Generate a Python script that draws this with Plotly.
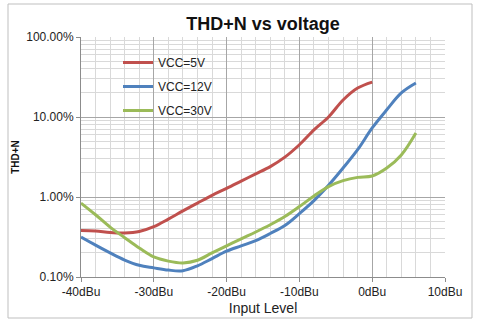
import plotly.graph_objects as go

# Data (THD+N in %, input level in dBu)
x_5v = [-40, -38, -36, -34, -32, -30, -28, -26, -24, -22, -20, -18, -16, -14, -12, -10, -8, -6, -4, -2, 0]
thd_5v = [0.38, 0.375, 0.36, 0.355, 0.37, 0.425, 0.53, 0.67, 0.84, 1.05, 1.28, 1.58, 1.95, 2.4, 3.15, 4.5, 6.9, 10.0, 16.3, 23.0, 27.3]

x_12v = [-40, -38, -36, -34, -32, -30, -28, -26, -24, -22, -20, -18, -16, -14, -12, -10, -8, -6, -4, -2, 0, 2, 4, 6]
thd_12v = [0.316, 0.25, 0.2, 0.163, 0.14, 0.13, 0.122, 0.12, 0.138, 0.17, 0.21, 0.245, 0.285, 0.35, 0.44, 0.62, 0.9, 1.4, 2.3, 3.9, 7.3, 12.3, 20.0, 26.6]

x_30v = [-40, -38, -36, -34, -32, -30, -28, -26, -24, -22, -20, -18, -16, -14, -12, -10, -8, -6, -4, -2, 0, 2, 4, 6]
thd_30v = [0.84, 0.6, 0.42, 0.31, 0.23, 0.178, 0.158, 0.15, 0.162, 0.2, 0.245, 0.3, 0.365, 0.45, 0.57, 0.76, 1.03, 1.35, 1.6, 1.76, 1.83, 2.3, 3.35, 6.3]

series_names = ["VCC=5V", "VCC=12V", "VCC=30V"]
series_colors = ["#C0504D", "#4F81BD", "#9BBB59"]

x_tickvals = [-40, -30, -20, -10, 0, 10]
x_ticktext = ["-40dBu", "-30dBu", "-20dBu", "-10dBu", "0dBu", "10dBu"]
y_tickvals = [0.1, 1, 10, 100]
y_ticktext = ["0.10%", "1.00%", "10.00%", "100.00%"]

FONT = "Arial, 'Liberation Sans', sans-serif"

fig = go.Figure()
for i, (xs, ys) in enumerate([(x_5v, thd_5v), (x_12v, thd_12v), (x_30v, thd_30v)]):
    fig.add_trace(go.Scatter(
        x=xs, y=ys, mode="lines", name=series_names[i],
        line=dict(color=series_colors[i], width=3, shape="spline", smoothing=1.0),
        legendgroup=series_names[i],
    ))

L, R, T, B = 81, 35, 37, 48
W, H = 480, 325
pw, ph = W - L - R, H - T - B

fig.update_layout(
    width=W, height=H,
    margin=dict(l=L, r=R, t=T, b=B, pad=0),
    paper_bgcolor="white", plot_bgcolor="white",
    font=dict(family=FONT, size=12, color="#222222"),
    title=dict(text="<b>THD+N vs voltage</b>", x=0.5, xref="paper", xanchor="center",
               y=1 - 24 / H, yref="container", yanchor="middle",
               font=dict(size=18, color="#111111", family=FONT)),
    showlegend=True,
    legend=dict(x=(118 - L) / pw, y=(277 - 48) / ph, xanchor="left", yanchor="top",
                bgcolor="rgba(0,0,0,0)", font=dict(size=12, color="#222222"),
                tracegroupgap=5, itemwidth=30),
    xaxis=dict(range=[-40, 10], tickvals=x_tickvals, ticktext=x_ticktext,
               showgrid=True, gridcolor="#A6A6A6", gridwidth=1,
               minor=dict(dtick=2, showgrid=True, gridcolor="#D9D9D9", gridwidth=1),
               showline=True, linecolor="#8C8C8C", linewidth=1,
               ticks="outside", ticklen=4, tickcolor="#8C8C8C",
               zeroline=False, automargin=False,
               tickfont=dict(size=12, color="#222222"),
               title=dict(text="Input Level", font=dict(size=14, color="#222222"), standoff=4)),
    yaxis=dict(type="log", range=[-1, 2], tickvals=y_tickvals, ticktext=y_ticktext,
               showgrid=True, gridcolor="#A6A6A6", gridwidth=1,
               minor=dict(dtick="D1", showgrid=True, gridcolor="#D9D9D9", gridwidth=1),
               showline=True, linecolor="#8C8C8C", linewidth=1,
               ticks="outside", ticklen=4, tickcolor="#8C8C8C",
               zeroline=False, automargin=False,
               tickfont=dict(size=12, color="#222222"),
               title=dict(text="<b>THD+N</b>", font=dict(size=10, color="#111111"), standoff=4)),
    shapes=[dict(type="rect", xref="paper", yref="paper",
                 x0=(8 - L) / pw, x1=(472 - L) / pw,
                 y0=(277 - 318) / ph, y1=(277 - 4) / ph,
                 line=dict(color="#BFBFBF", width=1), fillcolor="rgba(0,0,0,0)", layer="below")],
)

fig.write_html("out.html")
